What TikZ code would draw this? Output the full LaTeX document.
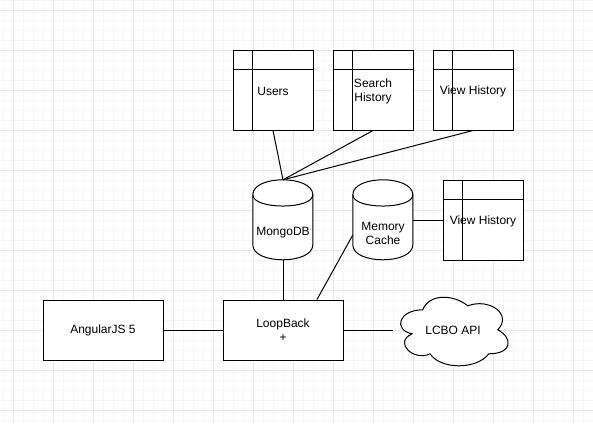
\documentclass[tikz,border=0pt]{standalone}
\usepackage{fontspec}
\setmainfont{Liberation Sans}
\usetikzlibrary{calc}
\definecolor{gridmajor}{HTML}{E8E8E8}
\definecolor{gridminor}{HTML}{F6F6F6}
\tikzset{
  box/.style={draw=black, line width=1pt, fill=white, minimum width=120pt, minimum height=60pt, inner sep=0pt, align=center, font=\fontsize{12}{14}\selectfont},
  tbl/.style={draw=black, line width=1pt, fill=white, minimum width=80pt, minimum height=80pt, inner sep=0pt, align=center, text width=62pt, font=\fontsize{12}{14}\selectfont},
  tblline/.style={draw=black, line width=1pt},
  holder/.style={draw=none, minimum width=60pt, minimum height=80pt, inner sep=0pt},
  lbl/.style={inner sep=0pt, align=center, font=\fontsize{12}{14}\selectfont},
  conn/.style={draw=black, line width=1pt},
  shapeline/.style={draw=black, line width=1pt, fill=white},
}
\begin{document}
\begin{tikzpicture}[x=1pt,y=-1pt]
\useasboundingbox (0,0) rectangle (593,423);
\fill[white] (0,0) rectangle (593,423);
% grid
\foreach \x in {3,13,...,593} \draw[gridminor, line width=1pt] (\x,0) -- (\x,423);
\foreach \y in {0,10,...,420} \draw[gridminor, line width=1pt] (0,\y) -- (593,\y);
\foreach \x in {13,53,...,593} \draw[gridmajor, line width=1pt] (\x,0) -- (\x,423);
\foreach \y in {10,50,...,420} \draw[gridmajor, line width=1pt] (0,\y) -- (593,\y);

% tables
\node[tbl] (users) at (273,90) {};
\node[tbl] (search) at (373,90) {};
\node[tbl] (viewh) at (473,90) {};
\node[tbl] (viewh2) at (483,220) {};
\foreach \t in {users,search,viewh,viewh2} {
  \draw[tblline] ($(\t.north west)+(20,0)$) -- ($(\t.south west)+(20,0)$);
  \draw[tblline] ($(\t.north west)+(0,20)$) -- ($(\t.north east)+(0,20)$);
}
\node[lbl] (userstext) at ($(users.center)+(0,1)$) {Users};
\node[lbl] (searchtext) at ($(search.center)+(0,1)$) {Search\\History};
\node[lbl] (viewhtext) at ($(viewh.center)+(0,1)$) {View History};
\node[lbl] (viewh2text) at ($(viewh2.center)+(0,1)$) {View History};

% cylinders
\node[holder] (mongo) at (283,220) {};
\node[holder] (cache) at (383,220) {};
\foreach \c in {mongo,cache} {
  \begin{scope}[shift={(\c.north west)}]
    \draw[shapeline] (0,15) .. controls (0,-5) and (60,-5) .. (60,15) -- (60,65) .. controls (60,85) and (0,85) .. (0,65) -- cycle;
    \draw[shapeline, fill=none] (0,15) .. controls (0,30) and (60,30) .. (60,15);
  \end{scope}
}
\node[lbl] (mongotext) at ($(mongo.center)+(0,13)$) {MongoDB};
\node[lbl] (cachetext) at ($(cache.center)+(0,13)$) {Memory\\Cache};

% boxes
\node[box] (ng) at (103,330) {AngularJS 5};
\node[box] (loop) at (283,330) {LoopBack\\+};

% cloud
\node[draw=none, minimum width=120pt, minimum height=80pt, inner sep=0pt] (lcbo) at (453,330) {};
\begin{scope}[shift={(lcbo.north west)}]
  \draw[shapeline] (30,20) .. controls (6,20) and (0,40) .. (19.2,44)
    .. controls (0,52.8) and (21.6,72) .. (37.2,64)
    .. controls (48,80) and (84,80) .. (96,64)
    .. controls (120,64) and (120,48) .. (105,40)
    .. controls (120,24) and (96,8) .. (75,16)
    .. controls (60,4) and (36,4) .. (30,20) -- cycle;
\end{scope}
\node[lbl] (lcbotext) at (lcbo.center) {LCBO API};

% connectors
\draw[conn] (users.south) -- (mongo.north);
\draw[conn] (search.south) -- (mongo.north);
\draw[conn] (viewh.south) -- (mongo.north);
\draw[conn] (mongo.south) -- (loop.north);
\draw[conn] ($(cache.west)+(0,15)$) -- ($(loop.north)+(34,0)$);
\draw[conn] (cache.east) -- (viewh2.west);
\draw[conn] (ng.east) -- (loop.west);
\draw[conn] (loop.east) -- (lcbo.west);
\end{tikzpicture}
\end{document}
